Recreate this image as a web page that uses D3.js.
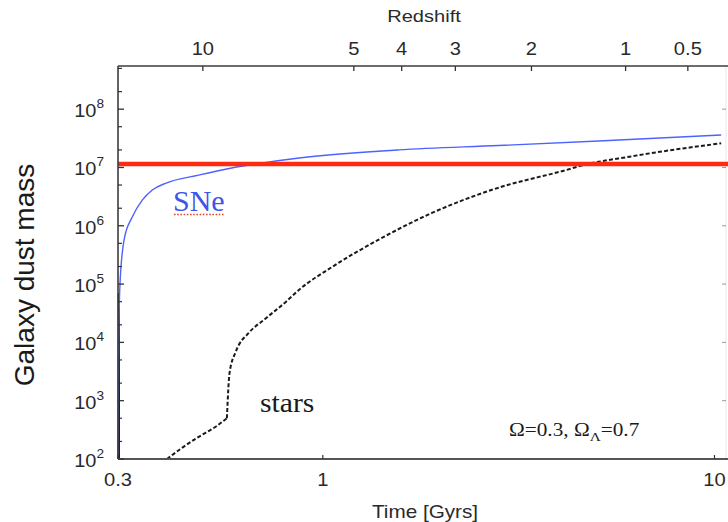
<!DOCTYPE html>
<html><head><meta charset="utf-8">
<script src="https://cdn.jsdelivr.net/npm/d3@7"></script>
<style>html,body{margin:0;padding:0;background:#fff;} svg{display:block;}</style>
</head><body>
<script>
// ---- data ----
const snTime = [0.300, 0.3005, 0.3012, 0.3035, 0.311, 0.326, 0.346, 0.367, 0.398, 0.482, 0.585, 0.659, 0.870, 1.56, 2.81, 5.06, 10.4];
const snMass = [1e2, 1e3, 1e4, 1e5, 5.8e5, 1.4e6, 2.75e6, 4.1e6, 5.4e6, 7.4e6, 9.8e6, 1.12e7, 1.45e7, 2.0e7, 2.38e7, 2.85e7, 3.6e7];
const starEarlyPartTime = [0.400, 0.440, 0.482, 0.530, 0.569];
const starEarlyPartMass = [1e2, 1.6e2, 2.4e2, 3.5e2, 5.0e2];
const starLatePartTime = [0.569, 0.578, 0.600, 0.647, 0.716, 0.806, 0.870, 1.054, 1.39, 1.90, 2.81, 4.17, 4.58, 6.14, 6.67, 10.4];
const starLatePartMass = [5.0e2, 3.0e3, 7.0e3, 1.45e4, 2.6e4, 5.0e4, 8.0e4, 1.95e5, 5.8e5, 1.66e6, 4.5e6, 9.0e6, 1.08e7, 1.55e7, 1.7e7, 2.6e7];
const starSpikeTime = [0.3015, 0.3015];
const starSpikeMass = [1e2, 7e4];
const thresholdMass = 1.15e7;
const timeTicks = [0.3, 1, 10];
const timeTickLabels = ["0.3", "1", "10"];
const redshiftLabels = ["10", "5", "4", "3", "2", "1", "0.5"];
const redshiftTime = [0.494, 1.20, 1.59, 2.18, 3.41, 5.93, 8.55];
const massDecades = [1e2, 1e3, 1e4, 1e5, 1e6, 1e7, 1e8];
const massExponents = ["2", "3", "4", "5", "6", "7", "8"];
const timeDomain = [0.3, 10.7];
const massDomain = [1e2, 5.5e8];

// ---- layout ----
const W = 728, H = 522;
const L = 118, R = 726, T = 66, B = 459;
const svg = d3.select("body").append("svg").attr("width", W).attr("height", H);
const x = d3.scaleLog().domain(timeDomain).range([L, R]);
const y = d3.scaleLog().domain(massDomain).range([B, T]);

svg.append("defs").append("clipPath").attr("id", "clip")
  .append("rect").attr("x", L - 3).attr("y", T).attr("width", W - L + 3).attr("height", B - T + 2);

function stext(g, px, py, str, o) {
  const t = g.append("text")
    .attr("transform", `translate(${px},${py}) scale(${o.sx || 1},1)`)
    .attr("text-anchor", o.anchor || "middle")
    .attr("font-family", o.family || "'Liberation Sans', Arial, sans-serif")
    .attr("font-size", o.size)
    .attr("fill", o.fill || "#2a2a2a");
  if (str !== null) t.text(str);
  return t;
}

// minor tick values (2 and 5 in each decade)
const yMinor = [];
massDecades.forEach(d => { [2, 5].forEach(m => { if (d * m <= massDomain[1]) yMinor.push(d * m); }); });

// right faint axis
svg.append("line").attr("x1", R).attr("x2", R).attr("y1", T).attr("y2", B)
  .attr("stroke", "#ececec").attr("stroke-width", 1.2);
svg.append("g").selectAll("line").data(massDecades.slice(1)).join("line")
  .attr("x1", R).attr("x2", R - 4).attr("y1", d => y(d)).attr("y2", d => y(d))
  .attr("stroke", "#9a9a9a").attr("stroke-width", 1);

// curves
const plot = svg.append("g").attr("clip-path", "url(#clip)");
const lineLin = d3.line().x(d => x(d[0])).y(d => y(d[1]));
const lineSmooth = d3.line().x(d => x(d[0])).y(d => y(d[1])).curve(d3.curveMonotoneX);
const zip = (a, b) => a.map((t, i) => [t, b[i]]);

plot.append("path").datum(zip(starSpikeTime, starSpikeMass))
  .attr("d", lineLin).attr("fill", "none").attr("stroke", "#111").attr("stroke-width", 2.2);

[[starEarlyPartTime, starEarlyPartMass], [starLatePartTime, starLatePartMass]].forEach(([t, m]) => {
  plot.append("path").datum(zip(t, m))
    .attr("d", lineSmooth).attr("fill", "none")
    .attr("stroke", "#1a1a1a").attr("stroke-width", 2).attr("stroke-dasharray", "4,2.2");
});

plot.append("path").datum(zip(snTime, snMass))
  .attr("d", lineSmooth)
  .attr("fill", "none").attr("stroke", "#4d62ff").attr("stroke-width", 1.4);

svg.append("line").attr("x1", L).attr("x2", W).attr("y1", y(thresholdMass)).attr("y2", y(thresholdMass))
  .attr("stroke", "#ff2a10").attr("stroke-width", 4.5);

// frame
const frame = svg.append("g").attr("stroke", "#3c3c3c").attr("fill", "none");
frame.append("line").attr("x1", L).attr("x2", W).attr("y1", T).attr("y2", T).attr("stroke-width", 1.5);
frame.append("line").attr("x1", L).attr("x2", L).attr("y1", T).attr("y2", B).attr("stroke-width", 1.6);
frame.append("line").attr("x1", L).attr("x2", W).attr("y1", B).attr("y2", B).attr("stroke-width", 2).attr("stroke", "#555");

// left ticks
svg.append("g").selectAll("line").data(massDecades).join("line")
  .attr("x1", L).attr("x2", L + 6).attr("y1", d => y(d)).attr("y2", d => y(d))
  .attr("stroke", "#333").attr("stroke-width", 1.3);
svg.append("g").selectAll("line").data(yMinor).join("line")
  .attr("x1", L).attr("x2", L + 4).attr("y1", d => y(d)).attr("y2", d => y(d))
  .attr("stroke", "#333").attr("stroke-width", 1.2);

// bottom ticks
svg.append("g").selectAll("line").data(timeTicks).join("line")
  .attr("x1", d => x(d)).attr("x2", d => x(d)).attr("y1", B).attr("y2", B - 4)
  .attr("stroke", "#333").attr("stroke-width", 1.2);
// top ticks (redshift)
svg.append("g").selectAll("line").data(redshiftTime).join("line")
  .attr("x1", d => x(d)).attr("x2", d => x(d)).attr("y1", T).attr("y2", T + 5)
  .attr("stroke", "#333").attr("stroke-width", 1.3);

// labels
const lab = svg.append("g");
timeTicks.forEach((t, i) => stext(lab, x(t), 486, timeTickLabels[i], {size: 18, sx: 1.12}));
redshiftTime.forEach((t, i) => stext(lab, x(t), 55, redshiftLabels[i], {size: 18, sx: 1.12}));
stext(lab, 424, 22, "Redshift", {size: 17, sx: 1.18});
stext(lab, 425, 518, "Time [Gyrs]", {size: 18, sx: 1.15});

massDecades.forEach((m, i) => {
  const t = stext(lab, 104, y(m) + 8, null, {size: 19, anchor: "end", sx: 1.05});
  t.append("tspan").text("10");
  t.append("tspan").attr("font-size", 13).attr("dy", -9).text(massExponents[i]);
});

lab.append("text").attr("transform", "translate(34,275) rotate(-90)")
  .attr("text-anchor", "middle").attr("font-family", "'Liberation Sans', Arial, sans-serif")
  .attr("font-size", 28).attr("fill", "#1a1a1a").text("Galaxy dust mass");

// annotations
stext(lab, 173, 211, "SNe", {size: 30, anchor: "start", family: "'Liberation Serif', 'Times New Roman', serif", fill: "#3d55e8"});
lab.append("line").attr("x1", 174).attr("x2", 225).attr("y1", 214.5).attr("y2", 214.5)
  .attr("stroke", "#e8452a").attr("stroke-width", 1.6).attr("stroke-dasharray", "1.6,1.6");
stext(lab, 260, 412, "stars", {size: 27, anchor: "start", sx: 1.1, family: "'Liberation Serif', 'Times New Roman', serif", fill: "#1a1a1a"});
const om = stext(lab, 509, 436, null, {size: 18, anchor: "start", sx: 1.18, family: "'Liberation Serif', 'Times New Roman', serif", fill: "#1a1a1a"});
om.append("tspan").text("\u03A9=0.3, \u03A9");
om.append("tspan").attr("font-size", 13).attr("dy", 5).text("\u039B");
om.append("tspan").attr("dy", -5).text("=0.7");
</script>
</body></html>
